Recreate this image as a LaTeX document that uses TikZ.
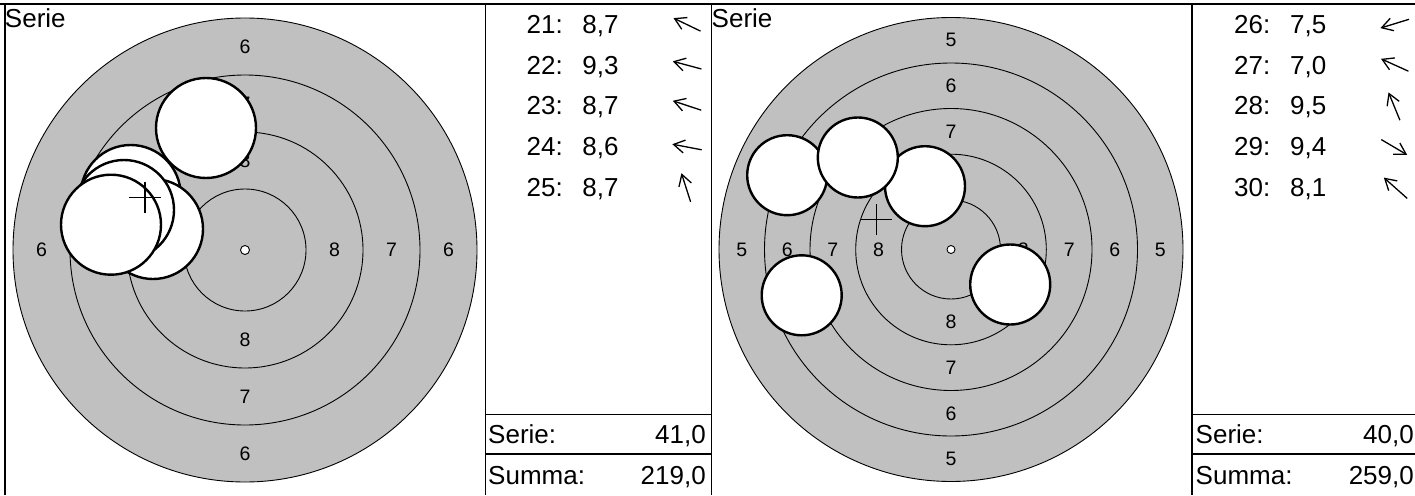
\documentclass[tikz,border=0pt]{standalone}
\usepackage{fontspec}
\setmainfont{Liberation Sans}
\usetikzlibrary{arrows.meta}
\definecolor{ringgray}{RGB}{192,192,192}
\begin{document}
\begin{tikzpicture}[x=1pt,y=-1pt,
  frame/.style={line width=1.3pt},
  ringline/.style={line width=0.9pt},
  targetdisk/.style={fill=ringgray, draw=black, line width=0.9pt},
  dotstyle/.style={fill=white, draw=black, line width=0.9pt},
  shot/.style={circle, draw=black, fill=white, line width=2.4pt, inner sep=0pt, outer sep=0pt},
  ringlbl/.style={font=\fontsize{19.5}{22}\selectfont, inner sep=0pt},
  txt/.style={font=\fontsize{26}{30}\selectfont, inner sep=0pt},
  dirarrow/.style={line width=1.3pt, -{Straight Barb[length=11pt,width=13pt]}},
  crossline/.style={line width=1.3pt}]
\useasboundingbox (0,0) rectangle (1415,495);

% ---------------- left target ----------------
\coordinate (tcL) at (245,250);
\draw[targetdisk] (tcL) circle[radius=232pt];
\foreach \r in {175,118,61} \draw[ringline] (tcL) circle[radius=\r pt];
\draw[dotstyle] (tcL) circle[radius=4.5pt];
\foreach \t/\r in {6/203.5,7/146.5,8/89.5}{
  \node[ringlbl] (lL\t n) at (245,250-\r) {\t};
  \node[ringlbl] (lL\t s) at (245,250+\r) {\t};
  \node[ringlbl] (lL\t w) at (245-\r,250) {\t};
  \node[ringlbl] (lL\t e) at (245+\r,250) {\t};
}
\node[shot, minimum size=100pt] (s21) at (130.7,195) {};
\node[shot, minimum size=100pt] (s22) at (153,229) {};
\node[shot, minimum size=100pt] (s23) at (124,210) {};
\node[shot, minimum size=100pt] (s24) at (111,224.7) {};
\node[shot, minimum size=100pt] (s25) at (206,128) {};
\coordinate (cxL) at (145,197.3);
\draw[crossline] (cxL) ++(-16,0) -- ++(32,0);
\draw[crossline] (cxL) ++(0,-15.5) -- ++(0,31);

% ---------------- right target ----------------
\coordinate (tcR) at (951,249.5);
\draw[targetdisk] (tcR) circle[radius=232pt];
\foreach \r in {186.5,141,95.3,49.5} \draw[ringline] (tcR) circle[radius=\r pt];
\draw[dotstyle] (tcR) circle[radius=4pt];
\foreach \t/\r in {5/209.3,6/163.8,7/118.2,8/72.4}{
  \node[ringlbl] (lR\t n) at (951,249.5-\r) {\t};
  \node[ringlbl] (lR\t s) at (951,249.5+\r) {\t};
  \node[ringlbl] (lR\t w) at (951-\r,249.5) {\t};
  \node[ringlbl] (lR\t e) at (951+\r,249.5) {\t};
}
\node[shot, minimum size=80pt] (s26) at (801.7,295.3) {};
\node[shot, minimum size=80pt] (s27) at (787.2,175.2) {};
\node[shot, minimum size=80pt] (s28) at (925,186.2) {};
\node[shot, minimum size=80pt] (s29) at (1010.2,284.5) {};
\node[shot, minimum size=80pt] (s30) at (857.8,157.5) {};
\coordinate (cxR) at (876.4,219.7);
\draw[crossline] (cxR) ++(-15.5,0) -- ++(31,0);
\draw[crossline] (cxR) ++(0,-15.5) -- ++(0,31);

% ---------------- titles ----------------
\node[txt, anchor=base west] (serL) at (4.8,28) {Serie};
\node[txt, anchor=base west] (serR) at (711.5,28) {Serie};

% ---------------- left list ----------------
\node[txt, anchor=base west] (n21) at (526.5,33.3) {21:};
\node[txt, anchor=base west] (v21) at (582.2,33.3) {8,7};
\node[txt, anchor=base west] (n22) at (526.5,74.1) {22:};
\node[txt, anchor=base west] (v22) at (582.2,74.1) {9,3};
\node[txt, anchor=base west] (n23) at (526.5,114.9) {23:};
\node[txt, anchor=base west] (v23) at (582.2,114.9) {8,7};
\node[txt, anchor=base west] (n24) at (526.5,155.7) {24:};
\node[txt, anchor=base west] (v24) at (582.2,155.7) {8,6};
\node[txt, anchor=base west] (n25) at (526.5,196.5) {25:};
\node[txt, anchor=base west] (v25) at (582.2,196.5) {8,7};

\draw[dirarrow] (700.5,31.1) -- (673.5,18.1);
\draw[dirarrow] (701.4,69.0) -- (672.8,61.3);
\draw[dirarrow] (701.2,110.2) -- (672.8,100.8);
\draw[dirarrow] (701.7,149.8) -- (672.3,144.2);
\draw[dirarrow] (690.6,201.8) -- (681.4,173.2);

\node[txt, anchor=base west] (sLlab) at (488,443) {Serie:};
\node[txt, anchor=base east] (sLval) at (706,443) {41,0};
\node[txt, anchor=base west] (tLlab) at (488,484) {Summa:};
\node[txt, anchor=base east] (tLval) at (706,484) {219,0};

% ---------------- right list ----------------
\node[txt, anchor=base west] (n26) at (1234,33.3) {26:};
\node[txt, anchor=base west] (v26) at (1290,33.3) {7,5};
\node[txt, anchor=base west] (n27) at (1234,74.1) {27:};
\node[txt, anchor=base west] (v27) at (1290,74.1) {7,0};
\node[txt, anchor=base west] (n28) at (1234,114.9) {28:};
\node[txt, anchor=base west] (v28) at (1290,114.9) {9,5};
\node[txt, anchor=base west] (n29) at (1234,155.7) {29:};
\node[txt, anchor=base west] (v29) at (1290,155.7) {9,4};
\node[txt, anchor=base west] (n30) at (1234,196.5) {30:};
\node[txt, anchor=base west] (v30) at (1290,196.5) {8,1};

\draw[dirarrow] (1409.0,19.3) -- (1380.4,28.1);
\draw[dirarrow] (1408.4,71.2) -- (1381.0,58.8);
\draw[dirarrow] (1399.9,120.2) -- (1388.5,92.4);
\draw[dirarrow] (1381.3,139.6) -- (1407.1,154.8);
\draw[dirarrow] (1407.2,198.4) -- (1383.8,177.6);

\node[txt, anchor=base west] (sRlab) at (1195.5,443) {Serie:};
\node[txt, anchor=base east] (sRval) at (1414,443) {40,0};
\node[txt, anchor=base west] (tRlab) at (1195.5,484) {Summa:};
\node[txt, anchor=base east] (tRval) at (1414,484) {259,0};

% ---------------- frame ----------------
\draw[frame] (0,4) -- (1415,4);
\draw[frame] (5,4) -- (5,495);
\draw[frame] (485.5,4) -- (485.5,495);
\draw[frame] (711.5,4) -- (711.5,495);
\draw[frame] (1192,4) -- (1192,495);
\draw[frame] (485.5,414.5) -- (711.5,414.5);
\draw[frame] (485.5,454) -- (711.5,454);
\draw[frame] (1192,414.5) -- (1415,414.5);
\draw[frame] (1192,454) -- (1415,454);
\end{tikzpicture}
\end{document}
